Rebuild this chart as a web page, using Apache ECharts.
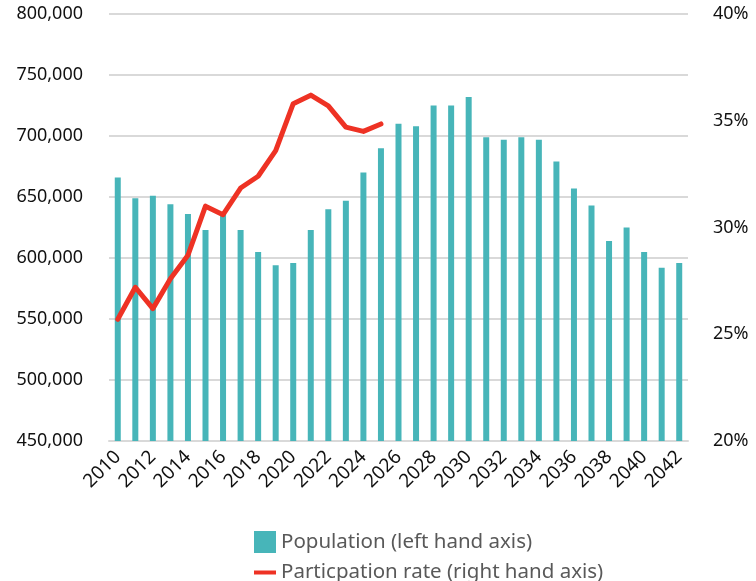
<!DOCTYPE html>
<html>
<head>
<meta charset="utf-8">
<script src="https://cdn.jsdelivr.net/npm/echarts@6/dist/echarts.min.js"></script>
<style>
  html, body { margin: 0; padding: 0; background: #fff; }
  #chart { width: 756px; height: 581px; }
</style>
</head>
<body>
<div id="chart"></div>
<script>
const years = []
for (let y = 2010; y <= 2042; y++) years.push(String(y))

const population = [
  666000, 649000, 651000, 644000, 636000, 623000, 636000, 623000,
  605000, 594000, 596000, 623000, 640000, 647000, 670000, 690000,
  710000, 708000, 725000, 725000, 732000, 699000, 697000, 699000,
  697000, 679000, 657000, 643000, 614000, 625000, 605000, 592000,
  596000,
]

const participation = [
  25.7, 27.2, 26.2, 27.6, 28.7, 31.0, 30.6, 31.85,
  32.4, 33.6, 35.8, 36.2, 35.7, 34.7, 34.5, 34.85,
]

const FONT = '"Noto Sans", "Open Sans", sans-serif'
const TEAL = '#47b5b9'
const RED = '#ee3224'
const POP_NAME = 'Population (left hand axis)'
const RATE_NAME = 'Particpation rate (right hand axis)'

const legendBase = {
  left: 249,
  itemWidth: 22,
  itemHeight: 22,
  itemGap: 13,
  textStyle: { fontFamily: FONT, fontSize: 20.5, color: '#595959' },
}

const chart = echarts.init(document.getElementById('chart'), null, { renderer: 'canvas' })

chart.setOption({
  backgroundColor: '#fff',
  animation: false,
  textStyle: { fontFamily: FONT },
  grid: { left: 109, right: 68, top: 14, bottom: 140 },
  legend: [
    { ...legendBase, top: 526, data: [{ name: POP_NAME, icon: 'rect' }] },
    { ...legendBase, top: 557, data: [{ name: RATE_NAME, icon: 'path://M0,0H22V4H0Z' }] },
  ],
  xAxis: {
    type: 'category',
    data: years,
    axisLine: { lineStyle: { color: '#d9d9d9', width: 2 } },
    axisTick: { show: false },
    axisLabel: {
      interval: 1,
      rotate: 45,
      margin: 13,
      color: '#111',
      fontSize: 19,
      fontFamily: FONT,
    },
  },
  yAxis: [
    {
      type: 'value',
      min: 450000,
      max: 800000,
      interval: 50000,
      axisLine: { show: false },
      axisTick: { show: false },
      axisLabel: {
        margin: 26,
        color: '#111',
        fontSize: 18,
        fontFamily: FONT,
        formatter: v => v.toLocaleString('en-US'),
      },
      splitLine: { lineStyle: { color: '#d9d9d9', width: 2 } },
    },
    {
      type: 'value',
      min: 20,
      max: 40,
      interval: 5,
      axisLine: { show: false },
      axisTick: { show: false },
      axisLabel: {
        margin: 25,
        color: '#111',
        fontSize: 18,
        fontFamily: FONT,
        formatter: '{value}%',
      },
      splitLine: { show: false },
    },
  ],
  series: [
    {
      name: POP_NAME,
      type: 'bar',
      data: population,
      barWidth: 6,
      itemStyle: { color: TEAL },
    },
    {
      name: RATE_NAME,
      type: 'line',
      yAxisIndex: 1,
      data: participation,
      symbol: 'none',
      lineStyle: { color: RED, width: 5, join: 'round', cap: 'round' },
      itemStyle: { color: RED },
    },
  ],
})
</script>
</body>
</html>
